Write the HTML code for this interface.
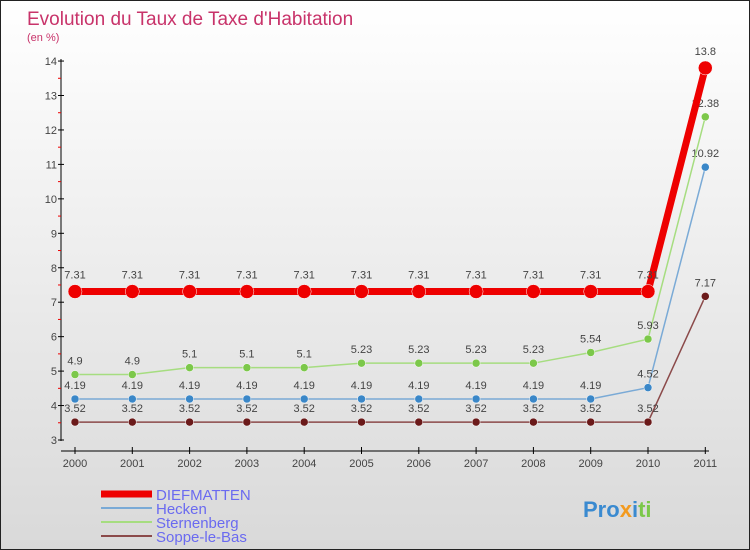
<!DOCTYPE html>
<html><head><meta charset="utf-8"><style>
body{margin:0}
#c{width:748px;height:548px;border:1px solid #222;background:linear-gradient(#fff,#d9d9d9);position:relative;font-family:"Liberation Sans",sans-serif}
</style></head><body>
<div id="c">
<svg id="s" width="748" height="548" style="position:absolute;left:0;top:0" font-family="Liberation Sans, sans-serif">
<text x="26" y="24" font-size="19" fill="#c8336a">Evolution du Taux de Taxe d'Habitation</text>
<text x="26" y="40" font-size="11" fill="#c8336a">(en %)</text>
<g id="g"></g>
<text x="582" y="516" font-size="22" font-weight="bold"><tspan fill="#3a8ad0">Pro</tspan><tspan fill="#f39a1e">x</tspan><tspan fill="#3a8ad0">i</tspan><tspan fill="#7cc84a">ti</tspan></text>
</svg>
</div>
<script>
const years=[2000,2001,2002,2003,2004,2005,2006,2007,2008,2009,2010,2011];
const diefmatten=[7.31,7.31,7.31,7.31,7.31,7.31,7.31,7.31,7.31,7.31,7.31,13.8];
const hecken=[4.19,4.19,4.19,4.19,4.19,4.19,4.19,4.19,4.19,4.19,4.52,10.92];
const sternenberg=[4.9,4.9,5.1,5.1,5.1,5.23,5.23,5.23,5.23,5.54,5.93,12.38];
const soppe=[3.52,3.52,3.52,3.52,3.52,3.52,3.52,3.52,3.52,3.52,3.52,7.17];
const yTicks=[3,4,5,6,7,8,9,10,11,12,13,14];
const X=i=>74+i*57.3, Y=v=>439-(v-3)*34.45;
const g=document.getElementById('g'),NS='http://www.w3.org/2000/svg';
function el(t,a,p){const e=document.createElementNS(NS,t);for(const k in a)e.setAttribute(k,a[k]);(p||g).appendChild(e);return e;}
let ax=el('line',{x1:60,y1:58,x2:60,y2:440,stroke:'#000'});


let xa=el('line',{x1:60,y1:450,x2:708,y2:450,stroke:'#000'});


yTicks.forEach(v=>{el('line',{x1:57,x2:63,y1:Y(v),y2:Y(v),stroke:'#000'});
 if(v<14)el('line',{x1:57,x2:60,y1:Y(v+.5),y2:Y(v+.5),stroke:'#e00'});
 const t=el('text',{x:56,y:Y(v)+4,'font-size':11,fill:'#444','text-anchor':'end'});t.textContent=v;
 
 });
years.forEach((y,i)=>{el('line',{x1:X(i),x2:X(i),y1:446,y2:453,stroke:'#000'});
 const t=el('text',{x:X(i),y:466,'font-size':11,fill:'#444','text-anchor':'middle'});t.textContent=y;
 
 });
function series(d,col,w,r,name,lc){
 const p=el('polyline',{points:d.map((v,i)=>X(i)+','+Y(v)).join(' '),fill:'none',stroke:col,'stroke-width':w});
 
 
 d.forEach((v,i)=>{const c=el('circle',{cx:X(i),cy:Y(v),r:r,fill:lc,stroke:'#fff','stroke-width':.5});
 
 
 const t=el('text',{x:X(i),y:Y(v)-(r+6),'font-size':11,fill:'#444','text-anchor':'middle'});t.textContent=v;
 
 });
}
series(soppe,'#8b4a4a',1.5,4,'soppe-le-bas','#6b1a1a');
series(hecken,'#7aaad6',1.5,4,'hecken','#3a87c8');
series(sternenberg,'#a6dd80',1.5,4,'sternenberg','#7cc84a');
series(diefmatten,'#ee0000',7,7,'diefmatten','#ee0000');
const leg=[['DIEFMATTEN','#ee0000',7],['Hecken','#7aaad6',2],['Sternenberg','#a6dd80',2],['Soppe-le-Bas','#8b4a4a',2]];
leg.forEach((l,i)=>{const y=493+i*14;el('line',{x1:100,x2:151,y1:y,y2:y,stroke:l[1],'stroke-width':l[2]});
 const t=el('text',{x:155,y:y+6,'font-size':15,fill:'#6a6af0'});t.textContent=l[0];
 
 });
</script>
</body></html>
